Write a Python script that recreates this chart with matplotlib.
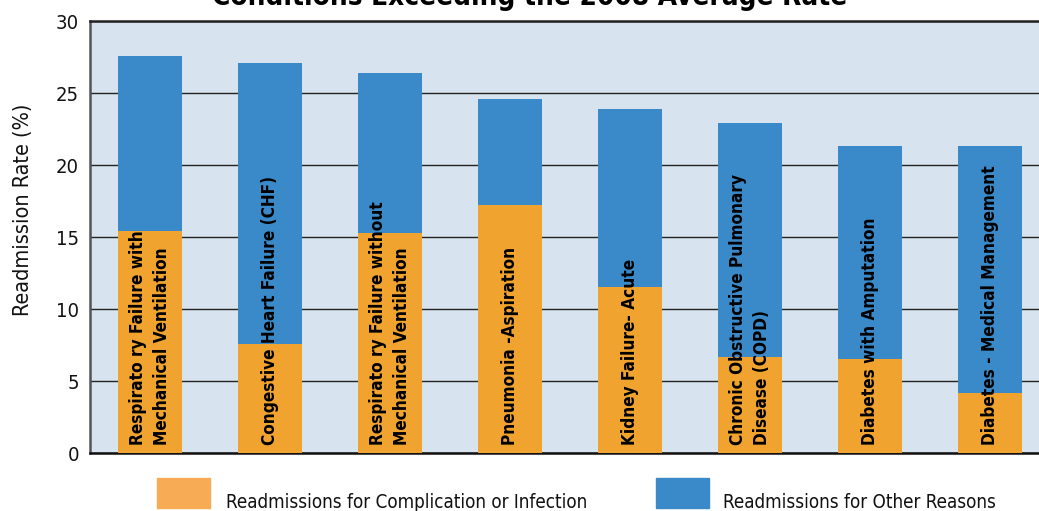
import numpy as np
import matplotlib
matplotlib.use('Agg')
import matplotlib.pyplot as plt
from matplotlib.patches import Rectangle

matplotlib.rcParams['font.family'] = ['DejaVu Sans Condensed', 'Liberation Sans Narrow', 'DejaVu Sans']
matplotlib.rcParams['font.stretch'] = 'condensed'

conditions = ['Respirato ry Failure with\nMechanical Ventilation',
              'Congestive Heart Failure (CHF)',
              'Respirato ry Failure without\nMechanical Ventilation',
              'Pneumonia -Aspiration',
              'Kidney Failure- Acute',
              'Chronic Obstructive Pulmonary\nDisease (COPD)',
              'Diabetes with Amputation',
              'Diabetes - Medical Management']
complication = [15.4, 7.6, 15.3, 17.2, 11.5, 6.7, 6.5, 4.2]
total        = [27.6, 27.1, 26.4, 24.6, 23.9, 22.9, 21.3, 21.3]
other = [t - c for t, c in zip(total, complication)]
series = ['Readmissions for Complication or Infection', 'Readmissions for Other Reasons']

c_orange = '#F0A32E'
c_orange_leg = '#F8AB55'
c_blue = '#3A89C9'
c_bg = '#D7E4EF'

W, H = 1039, 511
fig = plt.figure(figsize=(W/100, H/100), dpi=100)
ax = fig.add_axes([90/W, 1-453/H, 960/W, 432/H])
ax.set_facecolor(c_bg)

x = np.arange(len(conditions))
width = 0.53
ax.bar(x, complication, width, color=c_orange, zorder=3)
ax.bar(x, other, width, bottom=complication, color=c_blue, zorder=3)

for xi, lab in zip(x, conditions):
    ax.text(xi, 0.55, lab, rotation=90, ha='center', va='bottom',
            multialignment='left', fontsize=12.3, fontweight='bold',
            color='black', zorder=4, linespacing=1.45)

ax.set_xlim(-0.5, 7.5)
ax.set_ylim(0, 30)
ax.set_yticks(range(0, 31, 5))
ax.set_xticks([])
ax.yaxis.grid(True, color='#222222', lw=1.0, zorder=1)
ax.tick_params(axis='y', length=0, labelsize=14.5, pad=8, labelcolor='#111111')
for s in ['left', 'bottom', 'top']:
    ax.spines[s].set_linewidth(1.8)
ax.spines['left'].set_color('#555555')
ax.spines['bottom'].set_color('#111111')
ax.spines['top'].set_color('#222222')
ax.spines['right'].set_visible(False)
ax.set_ylabel('Readmission Rate (%)', fontsize=15.5, color='#111111')
ax.yaxis.set_label_coords(-0.059, 0.5625)

fig.text(530/W, 1-5/H, 'Conditions Exceeding the 2008 Average Rate',
         ha='center', va='baseline', fontsize=20, fontweight='bold')

# legend drawn by hand to sit where the reference has it
for px, tx, col, lab in [(157, 226, c_orange_leg, series[0]), (656, 723, c_blue, series[1])]:
    fig.patches.append(Rectangle((px/W, 1-508/H), 53/W, 30/H, color=col,
                                 transform=fig.transFigure, figure=fig))
    fig.text(tx/W, 1-508/H, lab, ha='left', va='baseline', fontsize=13.5, color='#111111')

fig.savefig('out.png', dpi=100)
